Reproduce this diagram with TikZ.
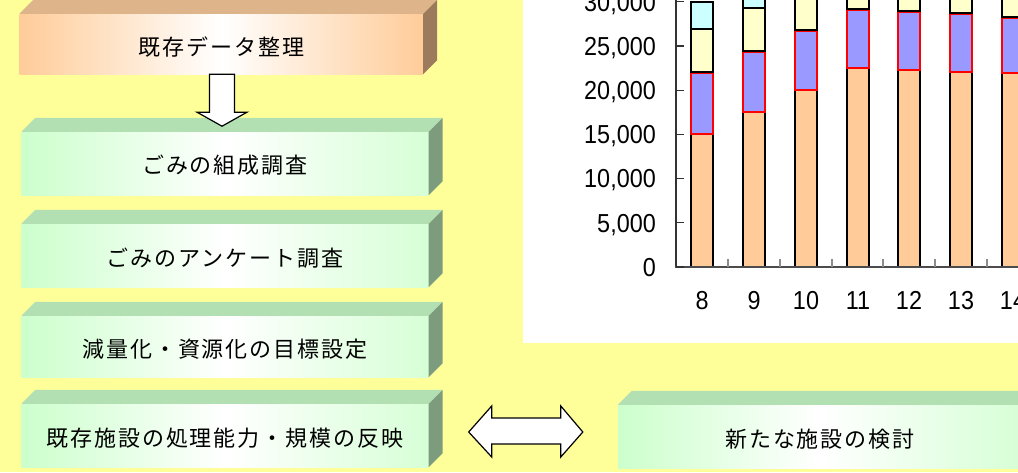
\documentclass[tikz,border=0pt]{standalone}
\usepackage{fontspec}
\setmainfont{Liberation Sans}
\newfontfamily\jpfont[LetterSpace=9]{Noto Sans CJK JP}
\newfontfamily\numfont[FakeStretch=0.9]{Liberation Sans}
\usetikzlibrary{calc}
\definecolor{bgY}{HTML}{FFFF99}
\definecolor{orF}{HTML}{FFCC99}
\definecolor{orT}{HTML}{DEB48B}
\definecolor{orS}{HTML}{9B7B5C}
\definecolor{grF}{HTML}{CCFFCC}
\definecolor{grR}{HTML}{D6FFD6}
\definecolor{grT}{HTML}{B3E0B3}
\definecolor{grS}{HTML}{7D9B7D}
\definecolor{segO}{HTML}{FFCC99}
\definecolor{segP}{HTML}{9999FF}
\definecolor{segY}{HTML}{FFFFCC}
\definecolor{segC}{HTML}{CCFFFF}
\tikzset{
  front/.style={inner sep=0pt, draw=none},
  orfront/.style={front, left color=orF, right color=orF, middle color=white},
  grfront/.style={front, left color=grF, right color=grR, middle color=white},
  jptext/.style={inner sep=0pt, font=\jpfont\fontsize{22}{26}\selectfont, text=black},
  numtext/.style={inner sep=0pt, font=\numfont\fontsize{26}{30}\selectfont, text=black},
  blockarrow/.style={draw=black, line width=1.2pt, fill=white, line join=miter},
  barO/.style={fill=segO, draw=black, line width=1.8pt},
  barP/.style={fill=segP, draw=red, line width=1.8pt},
  barY/.style={fill=segY, draw=black, line width=1.8pt},
  barC/.style={fill=segC, draw=black, line width=1.8pt},
}
\newcommand\boxfaces[3]{%
  \fill[#2] (#1.north west) -- ++(14,-14) -- ($(#1.north east)+(14,-14)$) -- (#1.north east) -- cycle;
  \fill[#3] (#1.north east) -- ++(14,-14) -- ($(#1.south east)+(14,-14)$) -- (#1.south east) -- cycle;
}
\begin{document}
\begin{tikzpicture}[x=1pt, y=-1pt]
\useasboundingbox (0,0) rectangle (1018,472);
\fill[bgY] (0,0) rectangle (1018,472);

% chart panel
\fill[white] (523,0) rectangle (1018,343);
\begin{scope}
\clip (523,0) rectangle (1018,343);
\foreach \x/\a/\b/\c in {691/134/73/29, 743/112/52/8, 795/90/31/-40, 847/68/10/-40, 898/70/12/-40, 950/72/14/-40, 1002/73/18/-40} {
  \draw[barO] (\x,267) rectangle (\x+22,\a);
  \draw[barP] (\x,\a) rectangle (\x+22,\b);
  \draw[barY] (\x,\b-1) rectangle (\x+22,\c);
}
\draw[barC] (691,29) rectangle (713,2);
\draw[barC] (743,8) rectangle (765,-40);
\draw[black!80, line width=1.6pt] (676,0) -- (676,267.5);
\draw[black!70, line width=1.6pt] (675.2,267) -- (1018,267);
\foreach \y/\t in {267/0, 222.8/{5,000}, 178.6/{10,000}, 134.4/{15,000}, 90.2/{20,000}, 46/{25,000}, 1.8/{30,000}} {
  \draw[black!80, line width=1.2pt] (676,\y) -- (684,\y);
  \node[numtext, anchor=base east] (yl\y) at (656,\y+9.3) {\t};
}
\foreach \x in {728,780,832,883,935,987} {
  \draw[black!45, line width=1.2pt] (\x,267) -- (\x,259);
}
\foreach \x/\t in {702/8, 754/9, 806/10, 858/11, 909/12, 961/13, 1013/14} {
  \node[numtext, anchor=base] (xl\t) at (\x,309.5) {\t};
}
\end{scope}

% boxes
\node[orfront, minimum width=403.5pt, minimum height=60pt] (b1) at (221.25,44) {};
\boxfaces{b1}{orT}{orS}
\node[jptext] (t1) at ($(b1.center)+(0,3)$) {既存データ整理};

\node[grfront, minimum width=407pt, minimum height=63pt] (b2) at (225,163.5) {};
\boxfaces{b2}{grT}{grS}
\node[jptext] (t2) at ($(b2.center)+(0,2)$) {ごみの組成調査};

\node[grfront, minimum width=407pt, minimum height=63pt] (b3) at (225,255.5) {};
\boxfaces{b3}{grT}{grS}
\node[jptext] (t3) at ($(b3.center)+(0,3)$) {ごみのアンケート調査};

\node[grfront, minimum width=407pt, minimum height=61pt] (b4) at (225,346.5) {};
\boxfaces{b4}{grT}{grS}
\node[jptext] (t4) at ($(b4.center)+(0,3)$) {減量化・資源化の目標設定};

\node[grfront, minimum width=407pt, minimum height=63pt] (b5) at (225,435.5) {};
\boxfaces{b5}{grT}{grS}
\node[jptext] (t5) at ($(b5.center)+(0,3)$) {既存施設の処理能力・規模の反映};

\node[grfront, minimum width=404pt, minimum height=63pt] (b6) at (820,436.5) {};
\boxfaces{b6}{grT}{grS}
\node[jptext] (t6) at ($(b6.center)+(0,3)$) {新たな施設の検討};

% down arrow from b1 to b2
\coordinate (da) at ($(b1.south)+(0.75,0)$);
\draw[blockarrow] (da) ++(-12.5,0) -- ++(25,0) -- ++(0,38) -- ++(12.5,0) -- ++(-25,14) -- ++(-25,-14) -- ++(12.5,0) -- cycle;

% double arrow between b5 and b6
\coordinate (lt) at ($(b5.east)+(40,-3.5)$);
\coordinate (rt) at ($(b6.west)+(-35,-4.5)$);
\draw[blockarrow] (lt) -- ++(23,-26) -- ++(0,12) -- ($(rt)+(-22,-14)$) -- ++(0,-12) -- (rt) -- ++(-22,25) -- ++(0,-13) -- ($(lt)+(23,12)$) -- ++(0,13) -- cycle;
\end{tikzpicture}
\end{document}
